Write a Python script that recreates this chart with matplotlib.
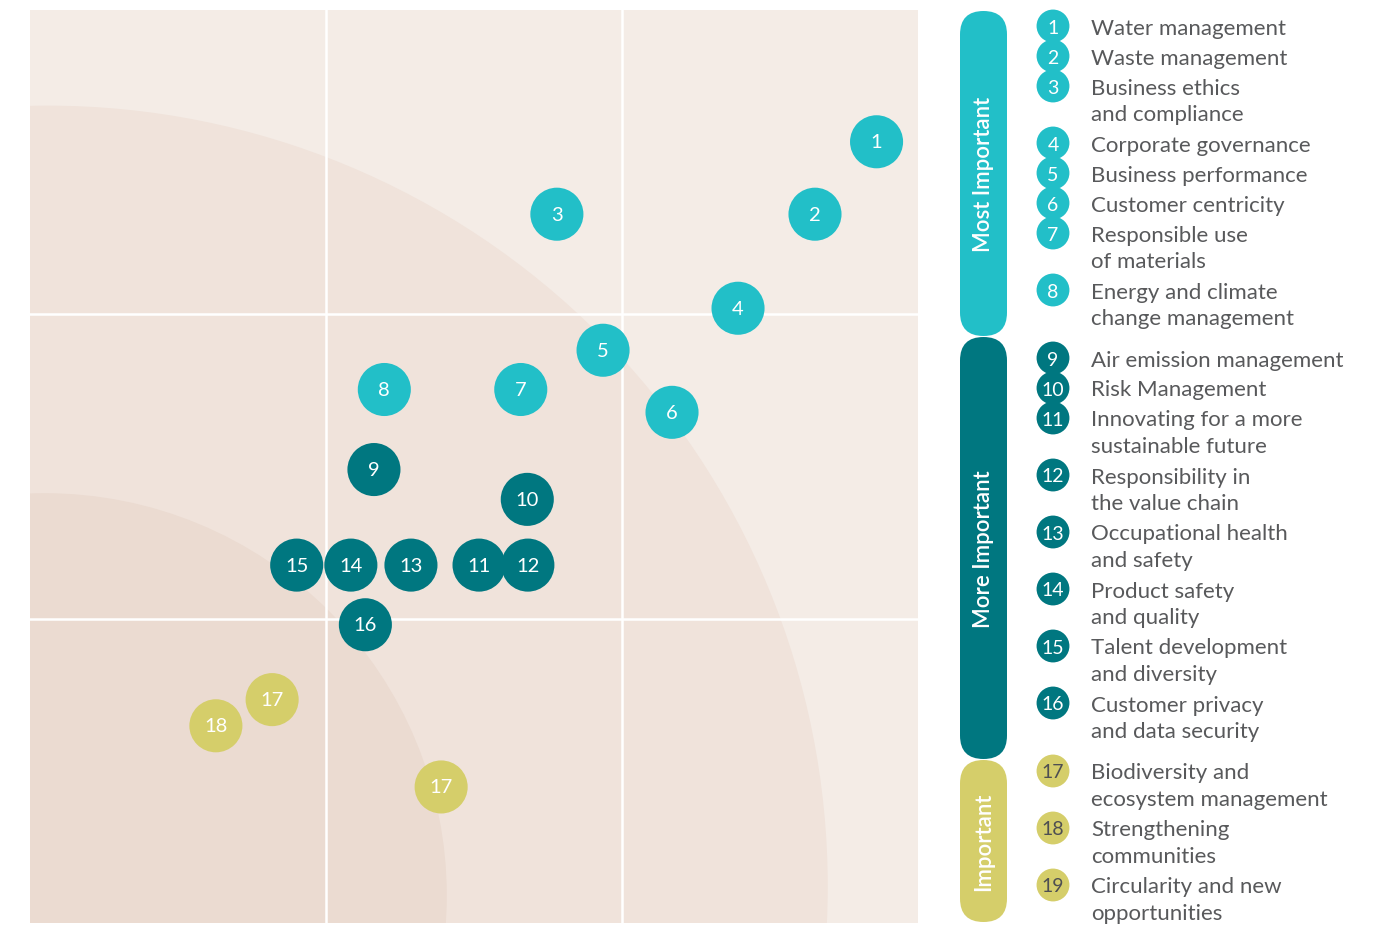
import matplotlib
matplotlib.use("Agg")
import matplotlib.pyplot as plt
from matplotlib.patches import Ellipse, Rectangle, FancyBboxPatch

plt.rcParams['font.family'] = ['Lato', 'DejaVu Sans']

# matrix points (x = impact on business, y = importance to stakeholders), 0..3
labels = ["1", "2", "3", "4", "5", "6", "7", "8", "9", "10",
          "11", "12", "13", "14", "15", "16", "17", "18", "17"]
xs = [2.860, 2.652, 1.780, 2.392, 1.936, 2.169, 1.658, 1.197, 1.162, 1.680,
      1.517, 1.682, 1.287, 1.084, 0.901, 1.133, 0.818, 0.628, 1.389]
ys = [2.567, 2.329, 2.329, 2.020, 1.882, 1.678, 1.753, 1.753, 1.490, 1.392,
      1.176, 1.176, 1.176, 1.176, 1.176, 0.980, 0.734, 0.648, 0.447]
groups = [0, 0, 0, 0, 0, 0, 0, 0, 1, 1, 1, 1, 1, 1, 1, 1, 2, 2, 2]

group_names = ["Most Important", "More Important", "Important"]
group_colors = ["#22bfc8", "#007780", "#d5ce6a"]
number_colors = ["white", "white", "#4e4f52"]

topics = [
    "Water management", "Waste management", "Business ethics\nand compliance",
    "Corporate governance", "Business performance", "Customer centricity",
    "Responsible use\nof materials", "Energy and climate\nchange management",
    "Air emission management", "Risk Management",
    "Innovating for a more\nsustainable future",
    "Responsibility in\nthe value chain", "Occupational health\nand safety",
    "Product safety\nand quality", "Talent development\nand diversity",
    "Customer privacy\nand data security",
    "Biodiversity and\necosystem management", "Strengthening\ncommunities",
    "Circularity and new\nopportunities",
]
topic_groups = [0] * 8 + [1] * 8 + [2] * 3

W, H = 1379, 929
fig = plt.figure(figsize=(W / 100, H / 100), dpi=100)

# ---- materiality matrix ----
ax = fig.add_axes([30 / W, 5 / H, 888 / W, 913 / H])
ax.set_xlim(0, 3)
ax.set_ylim(0, 3)
ax.axis("off")

bg = Rectangle((0, 0), 3, 3, facecolor="#f4ece6", edgecolor="none", zorder=0)
ax.add_patch(bg)
# concentric zones (pixel radius converted to data units)
for (cx, cy), r_px, col in [((0.06, 0.12), 780, "#f0e3db"),
                            ((0.05, 0.09), 402, "#ebdbd1")]:
    e = Ellipse((cx, cy), 2 * r_px / 296, 2 * r_px / 304,
                facecolor=col, edgecolor="none", zorder=1)
    ax.add_patch(e)
    e.set_clip_path(bg)
for v in [1, 2]:
    ax.axvline(v, color="white", lw=1.8, zorder=2)
    ax.axhline(v, color="white", lw=1.8, zorder=2)

for x, y, lab, g in zip(xs, ys, labels, groups):
    ax.scatter(x, y, s=1460, color=group_colors[g], edgecolor="none", zorder=3)
    ax.text(x, y, lab, color="white", fontsize=14.5, ha="center", va="center",
            zorder=4)

# ---- legend ----
lg = fig.add_axes([0, 0, 1, 1], facecolor="none")
lg.set_xlim(0, W)
lg.set_ylim(H, 0)
lg.axis("off")

bar_bounds = [(12, 337), (338, 760), (761, 923)]
for (top, bot), name, col in zip(bar_bounds, group_names, group_colors):
    lg.add_patch(FancyBboxPatch((960, top), 47, bot - top,
                                boxstyle="round,pad=0,rounding_size=23.5",
                                facecolor=col, edgecolor="none"))
    lg.text(984, (top + bot) / 2, name, rotation=90, color="white",
            fontsize=16, fontweight="semibold", ha="center", va="center")

y = 27
prev = None
for i, (t, g) in enumerate(zip(topics, topic_groups)):
    if prev is not None and g != prev:
        y += 11
    lg.scatter(1053, y, s=560, color=group_colors[g], edgecolor="none")
    lg.text(1053, y + 1, str(i + 1), color=number_colors[g], fontsize=14,
            ha="center", va="center")
    lines = t.split("\n")
    for k, line in enumerate(lines):
        lg.text(1091, y + 1.5 + 26.5 * k, line, color="#58595b", fontsize=16,
                ha="left", va="center")
    y += 30 if len(lines) == 1 else 57
    prev = g

fig.savefig("out.png", dpi=100)
